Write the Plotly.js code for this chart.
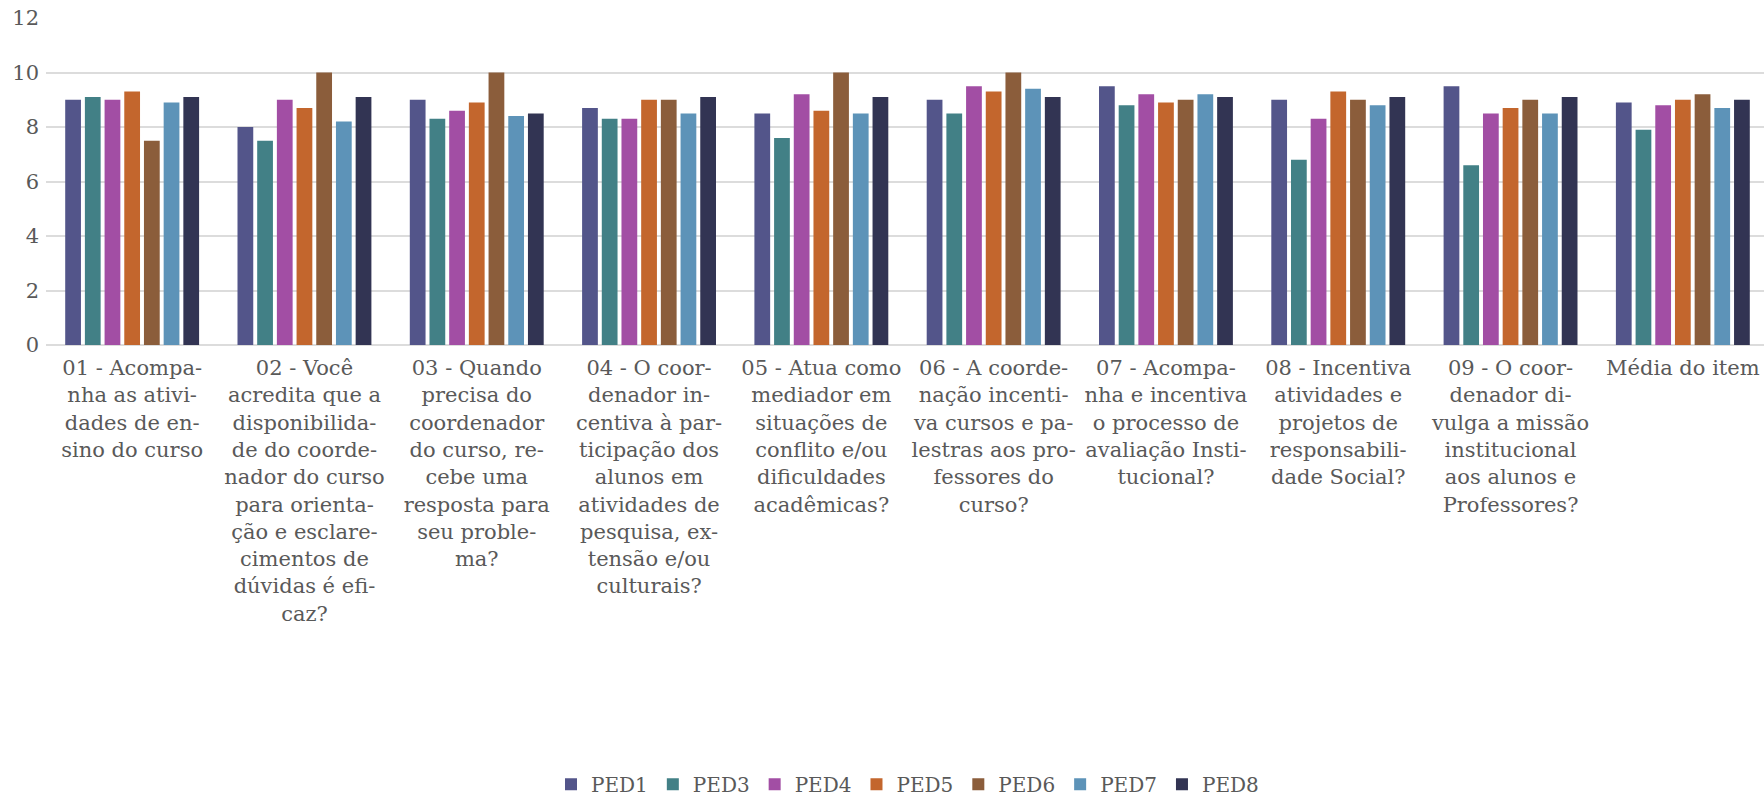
<!DOCTYPE html>
<html>
<head>
<meta charset="utf-8">
<script src="https://cdn.plot.ly/plotly-3.0.1.min.js"></script>
<style>
html,body{margin:0;padding:0;background:#fff;overflow:hidden;}
#chart{width:1769px;height:797px;}
</style>
</head>
<body>
<div id="chart"></div>
<script>
var categories = [
  "01 - Acompa-<br>nha as ativi-<br>dades de en-<br>sino do curso",
  "02 - Você<br>acredita que a<br>disponibilida-<br>de do coorde-<br>nador do curso<br>para orienta-<br>ção e esclare-<br>cimentos de<br>dúvidas é efi-<br>caz?",
  "03 - Quando<br>precisa do<br>coordenador<br>do curso, re-<br>cebe uma<br>resposta para<br>seu proble-<br>ma?",
  "04 - O coor-<br>denador in-<br>centiva à par-<br>ticipação dos<br>alunos em<br>atividades de<br>pesquisa, ex-<br>tensão e/ou<br>culturais?",
  "05 - Atua como<br>mediador em<br>situações de<br>conflito e/ou<br>dificuldades<br>acadêmicas?",
  "06 - A coorde-<br>nação incenti-<br>va cursos e pa-<br>lestras aos pro-<br>fessores do<br>curso?",
  "07 - Acompa-<br>nha e incentiva<br>o processo de<br>avaliação Insti-<br>tucional?",
  "08 - Incentiva<br>atividades e<br>projetos de<br>responsabili-<br>dade Social?",
  "09 - O coor-<br>denador di-<br>vulga a missão<br>institucional<br>aos alunos e<br>Professores?",
  "Média do item"
];

var seriesNames = ["PED1", "PED3", "PED4", "PED5", "PED6", "PED7", "PED8"];

var PED1 = [9.0, 8.0, 9.0, 8.7, 8.5, 9.0, 9.5, 9.0, 9.5, 8.9];
var PED3 = [9.1, 7.5, 8.3, 8.3, 7.6, 8.5, 8.8, 6.8, 6.6, 7.9];
var PED4 = [9.0, 9.0, 8.6, 8.3, 9.2, 9.5, 9.2, 8.3, 8.5, 8.8];
var PED5 = [9.3, 8.7, 8.9, 9.0, 8.6, 9.3, 8.9, 9.3, 8.7, 9.0];
var PED6 = [7.5, 10.0, 10.0, 9.0, 10.0, 10.0, 9.0, 9.0, 9.0, 9.2];
var PED7 = [8.9, 8.2, 8.4, 8.5, 8.5, 9.4, 9.2, 8.8, 8.5, 8.7];
var PED8 = [9.1, 9.1, 8.5, 9.1, 9.1, 9.1, 9.1, 9.1, 9.1, 9.0];

var yTicks = [0, 2, 4, 6, 8, 10, 12];

var seriesValues = [PED1, PED3, PED4, PED5, PED6, PED7, PED8];
var colors = ["#53558A", "#428086", "#A24EA4", "#C3662D", "#8B5D3B", "#5D93B8", "#323453"];

var FONT = "'DejaVu Serif', Georgia, serif";

var traces = seriesNames.map(function(name, i) {
  return {
    type: "bar",
    name: name,
    x: categories,
    y: seriesValues[i],
    marker: {color: colors[i], line: {width: 0}},
    hoverinfo: "x+y+name"
  };
});

var layout = {
  width: 1769,
  height: 797,
  margin: {l: 46, r: 0, t: 18, b: 452, pad: 0},
  paper_bgcolor: "#ffffff",
  plot_bgcolor: "#ffffff",
  barmode: "group",
  bargap: 0.2,
  bargroupgap: 0.2,
  font: {family: FONT, size: 21, color: "#595959"},
  xaxis: {
    type: "category",
    tickangle: 0,
    showgrid: false,
    showline: false,
    ticks: "",
    ticklabelstandoff: 8,
    tickfont: {family: FONT, size: 21, color: "#595959"},
    automargin: false
  },
  yaxis: {
    range: [0, 12],
    tickvals: yTicks,
    ticktext: yTicks.map(String),
    showgrid: true,
    gridcolor: "#dcdcdc",
    gridwidth: 2,
    zeroline: true,
    zerolinecolor: "#dcdcdc",
    zerolinewidth: 2,
    showline: false,
    ticks: "",
    ticklabelstandoff: 6,
    tickfont: {family: FONT, size: 21, color: "#595959"},
    automargin: false
  },
  legend: {
    orientation: "h",
    x: 0.5,
    xanchor: "center",
    xref: "paper",
    y: 0.016,
    yanchor: "middle",
    yref: "container",
    font: {family: FONT, size: 20, color: "#595959"},
    traceorder: "normal"
  },
  showlegend: true
};

Plotly.newPlot("chart", traces, layout, {displayModeBar: false, responsive: false});
</script>
</body>
</html>
